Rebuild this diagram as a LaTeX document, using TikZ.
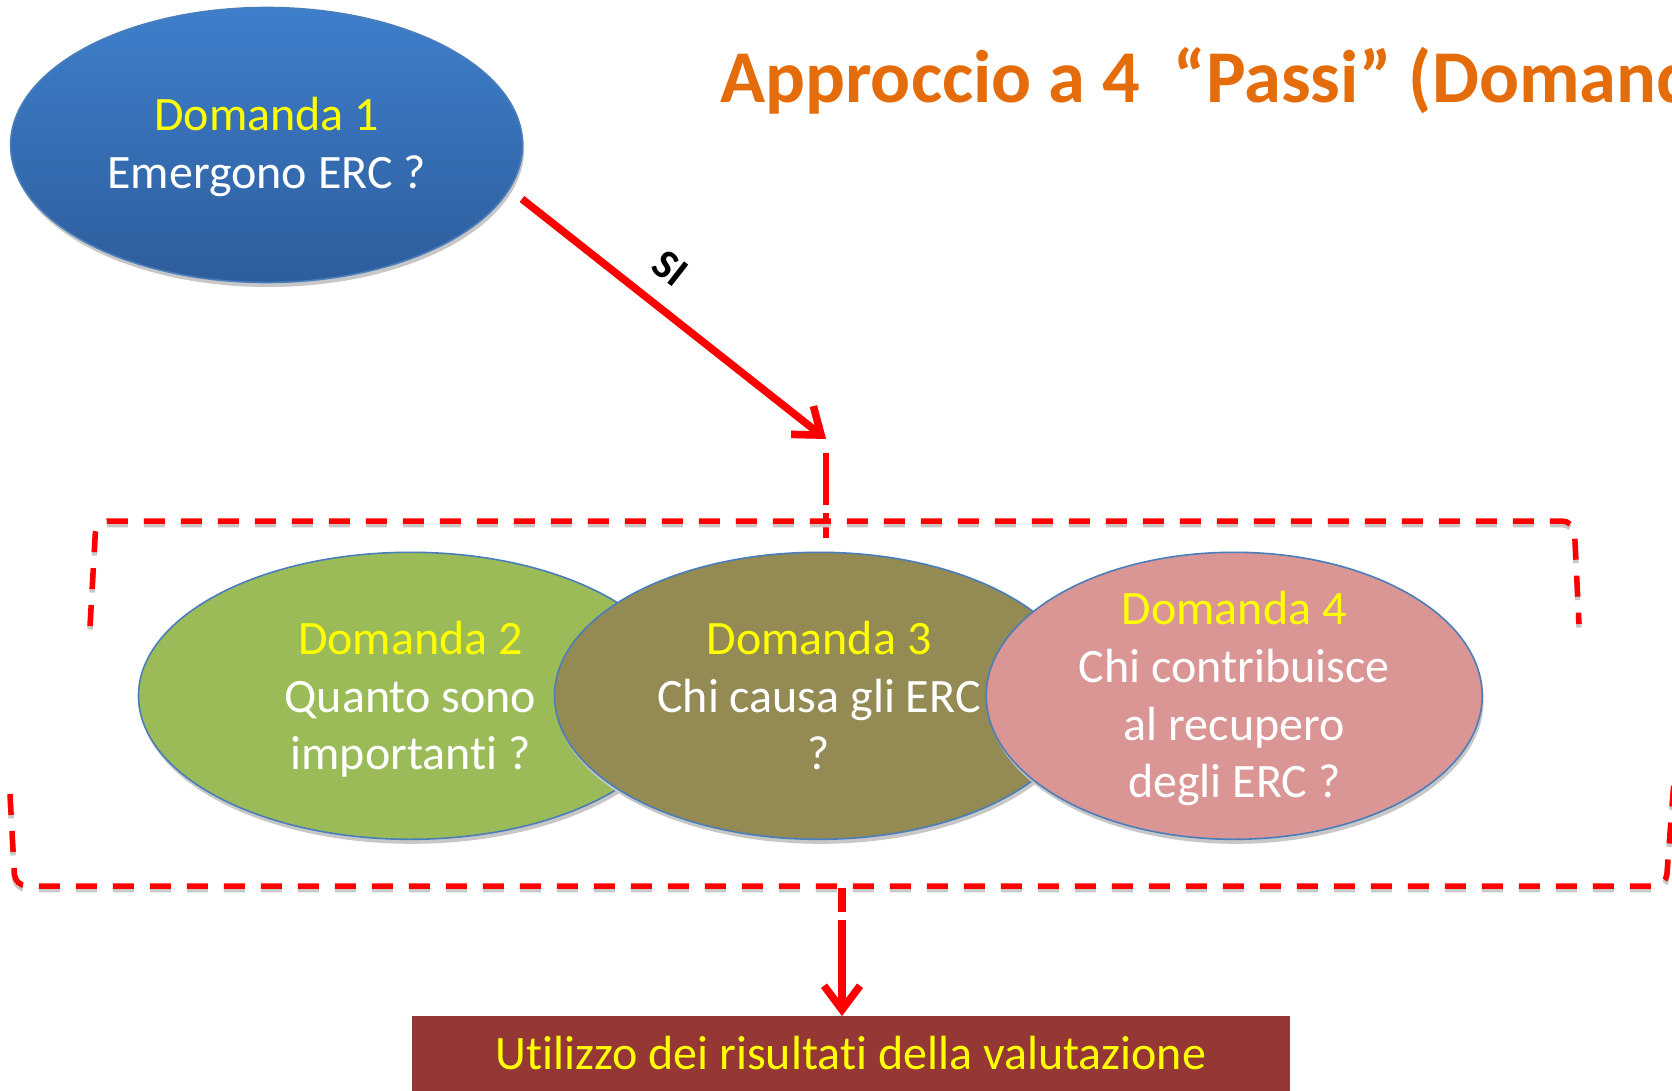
\documentclass[tikz,border=0pt]{standalone}
\usepackage{fontspec}
\setmainfont{Carlito}[Ligatures=NoCommon]
\usetikzlibrary{arrows.meta,shapes.geometric,shadows}
\definecolor{yel}{HTML}{FFFF00}
\definecolor{titleor}{HTML}{E46C0A}
\definecolor{blueTop}{HTML}{3E7FCB}
\definecolor{blueBot}{HTML}{2E5D9C}
\definecolor{ellline}{HTML}{4A7EBB}
\definecolor{greenF}{HTML}{9BBB59}
\definecolor{oliveF}{HTML}{948A54}
\definecolor{pinkF}{HTML}{D99694}
\definecolor{boxred}{HTML}{953735}
\definecolor{shadowgray}{HTML}{C8C8C8}
\begin{document}
\begin{tikzpicture}[x=1pt,y=-1pt,
  ell/.style={ellipse, draw=ellline, line width=1.6pt, inner sep=0pt,
    drop shadow={shadow xshift=1.5pt, shadow yshift=-4.5pt, fill=black!22, opacity=1}},
  txt/.style={text=white, font=\fontsize{48}{57.6}\selectfont, align=center,
    inner sep=0pt, anchor=base},
  redarrow/.style={draw=red, line width=7.5pt, -{Straight Barb[length=24pt,width=36pt]}},
  shadowarrow/.style={draw=shadowgray, line width=7.5pt, -{Straight Barb[length=24pt,width=36pt]}},
  frame/.style={draw=red, line width=5.5pt, dash pattern=on 21pt off 16pt, rounded corners=12pt},
  frameshadow/.style={draw=shadowgray, line width=5.5pt, dash pattern=on 21pt off 16pt, rounded corners=12pt}
]
\useasboundingbox (0,0) rectangle (1672,1091);
\fill[white] (0,0) rectangle (1672,1091);
\begin{scope}
\clip (0,0) rectangle (1672,1091);

% title
\node[anchor=base west, text=titleor, inner sep=0pt,
  font=\bfseries\fontsize{74.5}{80}\selectfont] (title) at (720,103)
  {Approccio a 4\ \ “Passi” (Domande)};

% ellipse 1 (text node anchored at the baseline of its last line)
\node[ell, top color=blueTop, bottom color=blueBot, minimum width=512pt, minimum height=275pt] (e1) at (266.6,145) {};
\node[txt] (t1) at (266.6,188.6) {\textcolor{yel}{Domanda 1}\\Emergono ERC ?};

% arrow SI
\coordinate (s1) at (522,199);
\coordinate (a1) at (826,439);
\draw[shadowarrow, xshift=1.5pt, yshift=-3.5pt] (s1) -- (a1);
\draw[redarrow] (s1) -- (a1);
\node[font=\bfseries\fontsize{42}{42}\selectfont, rotate=-38, inner sep=0pt] (si) at (670,268) {SI};

% vertical dashed connector
\coordinate (v1a) at (826,453);
\coordinate (v1b) at (826,538);
\draw[draw=shadowgray, line width=5.5pt, dash pattern=on 52pt off 8pt on 30pt, xshift=1.5pt, yshift=-3pt] (v1a) -- (v1b);
\draw[draw=red, line width=5.5pt, dash pattern=on 52pt off 8pt on 30pt] (v1a) -- (v1b);

% frame top
\draw[frameshadow, yshift=-3.5pt] (90,626) -- (96,521) -- (1574,521) -- (1579,624);
\draw[frame] (90,626) -- (96,521) -- (1574,521) -- (1579,624);

% lower ellipses
\node[ell, fill=greenF, minimum width=544pt, minimum height=287pt] (e2) at (410.5,695.8) {};
\node[ell, fill=oliveF, minimum width=529pt, minimum height=287pt] (e3) at (819,695.8) {};
\node[ell, fill=pinkF, minimum width=496pt, minimum height=287pt] (e4) at (1234.2,695.8) {};
\node[txt] (t2) at (410.5,769.9) {\textcolor{yel}{Domanda 2}\\Quanto sono\\importanti ?};
\node[txt] (t3) at (819,769.9) {\textcolor{yel}{Domanda 3}\\Chi causa gli ERC\\?};
\node[txt] (t4) at (1234.2,797.6) {\textcolor{yel}{Domanda 4}\\Chi contribuisce\\al recupero\\degli ERC ?};

% frame bottom
\draw[frameshadow, yshift=-3.5pt] (10,794) -- (15,886) -- (1666,886) -- (1674,780);
\draw[frame] (10,794) -- (15,886) -- (1666,886) -- (1674,780);

% result box
\node[fill=boxred, anchor=north west, minimum width=878.6pt, minimum height=90pt, inner sep=0pt] (box) at (411.6,1016) {};
\node[anchor=base, inner sep=0pt, text=yel, font=\fontsize{48}{57.6}\selectfont] (boxt) at (851,1069) {Utilizzo dei risultati della valutazione};

% down connector
\coordinate (c3) at (842,888);
\draw[shadowarrow, dash pattern=on 24pt off 8pt on 300pt, xshift=1.5pt, yshift=-3pt] (c3) -- (c3 |- box.north);
\draw[redarrow, dash pattern=on 24pt off 8pt on 300pt] (c3) -- (c3 |- box.north);
\end{scope}
\end{tikzpicture}
\end{document}
